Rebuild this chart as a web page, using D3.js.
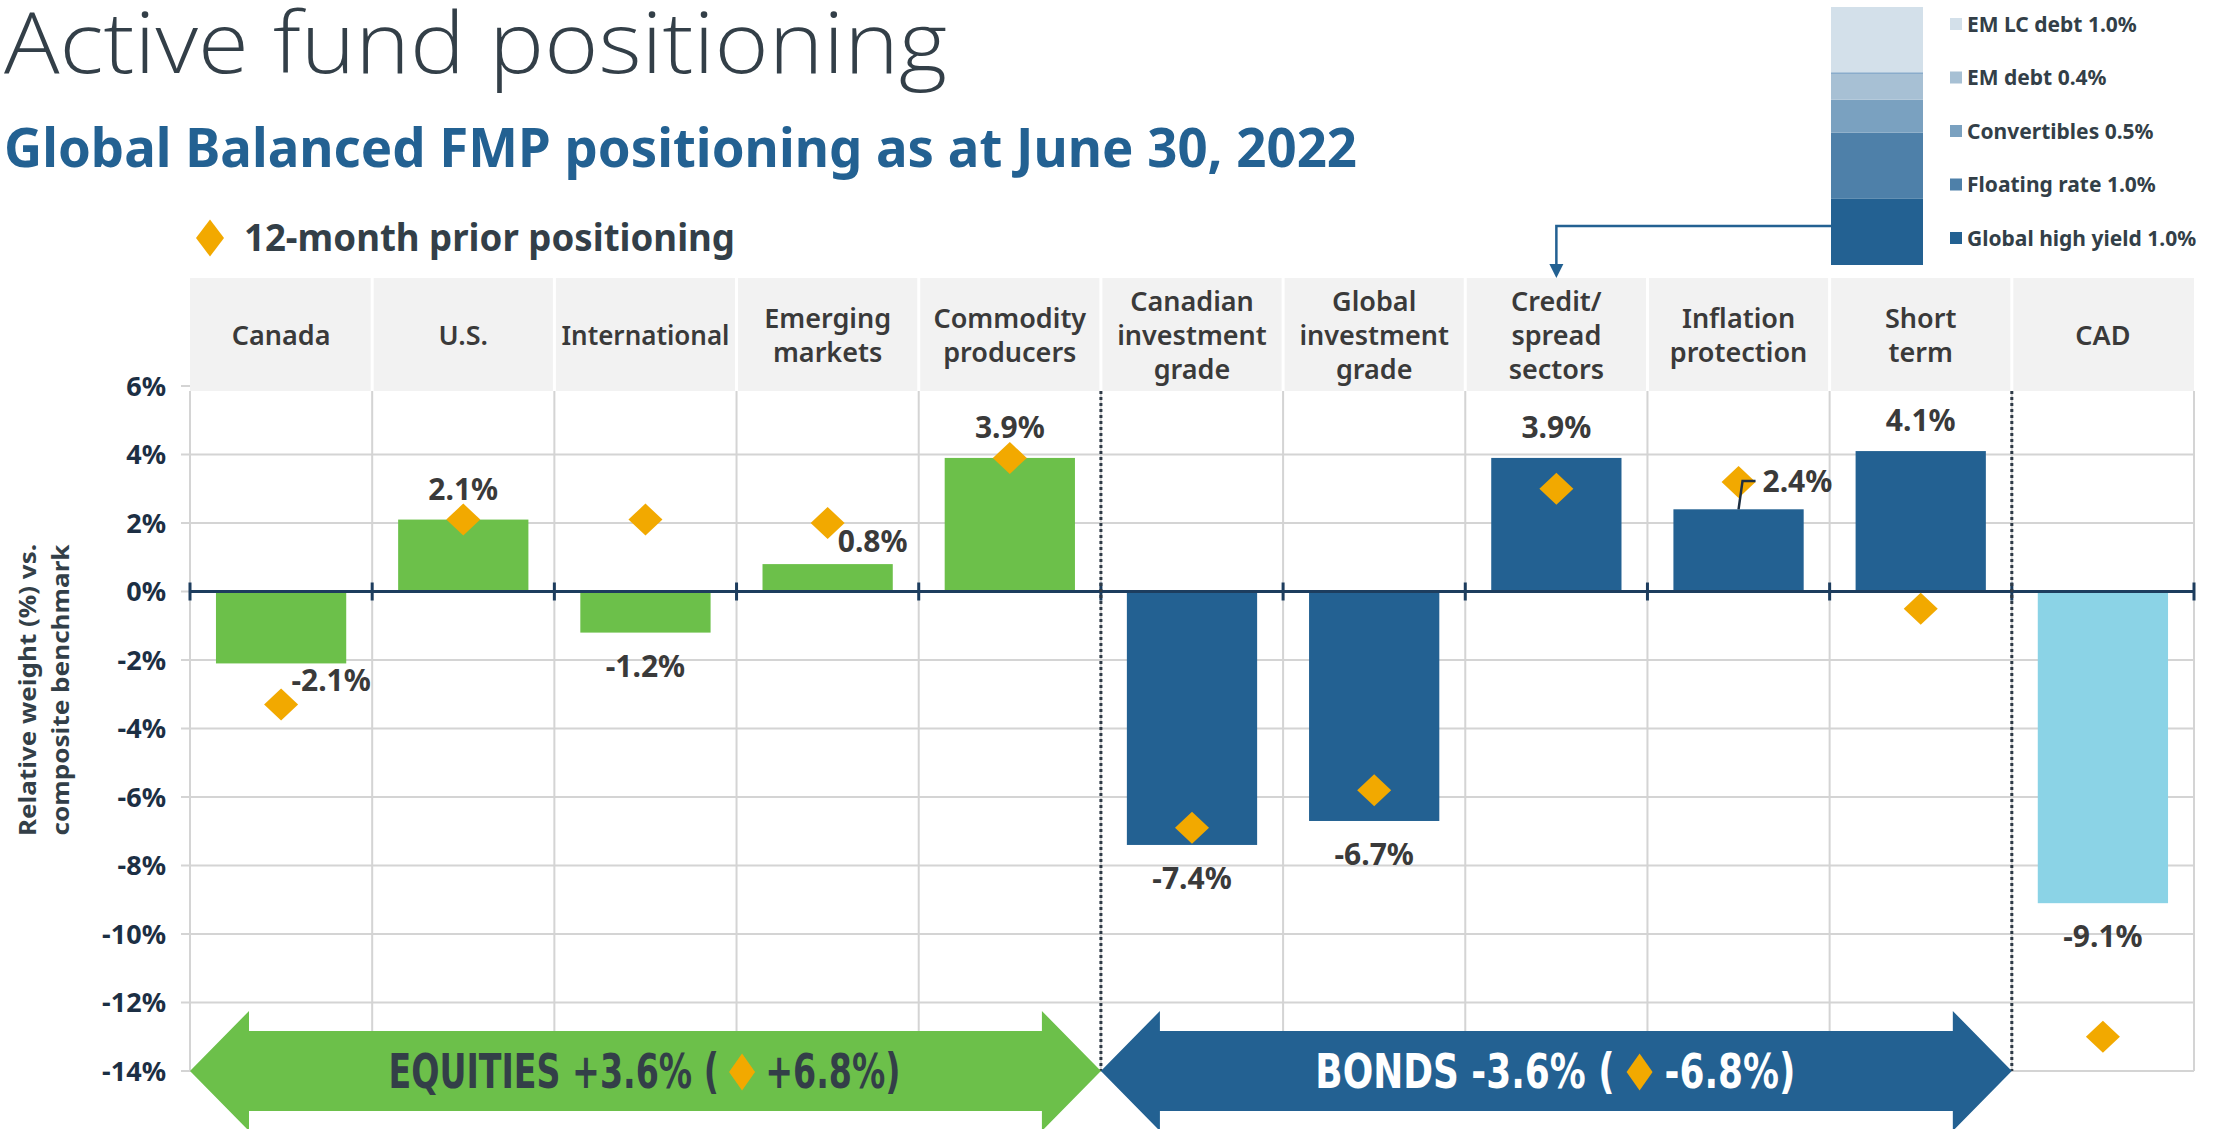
<!DOCTYPE html>
<html>
<head>
<meta charset="utf-8">
<script src="https://cdn.jsdelivr.net/npm/d3@7"></script>
<style>
  html, body { margin: 0; padding: 0; background: #ffffff; }
  svg { display: block; }
</style>
</head>
<body>
<svg id="chart" width="2224" height="1129"></svg>
<script>
// ---------------- DATA ----------------
const categories = ["Canada", "U.S.", "International", "Emerging markets", "Commodity producers",
  "Canadian investment grade", "Global investment grade", "Credit/ spread sectors",
  "Inflation protection", "Short term", "CAD"];
const headerLines = [["Canada"], ["U.S."], ["International"], ["Emerging", "markets"], ["Commodity", "producers"],
  ["Canadian", "investment", "grade"], ["Global", "investment", "grade"], ["Credit/", "spread", "sectors"],
  ["Inflation", "protection"], ["Short", "term"], ["CAD"]];
const groups = ["equity", "equity", "equity", "equity", "equity", "bond", "bond", "bond", "bond", "bond", "fx"];
const currentPositioning = [-2.1, 2.1, -1.2, 0.8, 3.9, -7.4, -6.7, 3.9, 2.4, 4.1, -9.1];
const priorPositioning = [-3.3, 2.1, 2.1, 2.0, 3.9, -6.9, -5.8, 3.0, 3.2, -0.5, -13.0];
const yTicks = [6, 4, 2, 0, -2, -4, -6, -8, -10, -12, -14];

const creditNames = ["Global high yield", "Floating rate", "Convertibles", "EM debt", "EM LC debt"];
const creditValues = [1.0, 1.0, 0.5, 0.4, 1.0];

const arrowGroups = ["equity", "bond"];
const arrowLeftText = ["EQUITIES +3.6% (", "BONDS -3.6% ("];
const arrowRightText = ["+6.8%)", "-6.8%)"];

const titleText = "Active fund positioning";
const subtitleText = "Global Balanced FMP positioning as at June 30, 2022";
const legendText = "12-month prior positioning";
const yAxisTitle = ["Relative weight (%) vs.", "composite benchmark"];

// ---------------- STYLE / LAYOUT ----------------
const C = {
  text: "#333f48", label: "#3a3a3a", navy: "#1c2f44", blue: "#236192",
  green: "#6cc04a", cad: "#8bd3e6", gold: "#f2a900", grid: "#d4d4d4", header: "#f2f2f2"
};
const groupColor = { equity: C.green, bond: C.blue, fx: C.cad };
const stackColors = ["#236192", "#4e80a9", "#7aa1c0", "#a7c0d4", "#d3e0ea"];
const FONT = "'Noto Sans', 'Open Sans', sans-serif";
const NARROW = "'Liberation Sans Narrow', 'DejaVu Sans Condensed', sans-serif";

const plotLeft = 190, plotRight = 2194, plotTop = 386, plotBottom = 1071;
const headerTop = 278, headerBottom = 391;

// label placement tweaks (pixels) for a few bars
const labelLayout = {
  "Canada": { dx: 50, dy: 28 },
  "Emerging markets": { dx: 45, dy: -12 },
  "Inflation protection": { leader: true }
};

const svg = d3.select("#chart");

// ---------------- SCALES ----------------
const xBand = d3.scaleBand().domain(categories).range([plotLeft, plotRight]).padding(0);
const xBar = d3.scaleBand().domain(categories).range([plotLeft, plotRight]).paddingInner(0.285).paddingOuter(0.1425);
const y = d3.scaleLinear().domain([-14, 6]).range([plotBottom, plotTop]);

const rows = categories.map((c, i) => ({
  cat: c, lines: headerLines[i], group: groups[i], cur: currentPositioning[i], prior: priorPositioning[i]
}));

// ---------------- TITLES ----------------
svg.append("text").attr("x", 4).attr("y", 73)
  .attr("font-family", "'Open Sans', 'Noto Sans', sans-serif").attr("font-weight", 300)
  .attr("font-size", 84).attr("fill", C.text)
  .attr("textLength", 943).attr("lengthAdjust", "spacingAndGlyphs")
  .text(titleText);

svg.append("text").attr("x", 4).attr("y", 167)
  .attr("font-family", FONT).attr("font-weight", 700)
  .attr("font-size", 54).attr("fill", C.blue)
  .attr("textLength", 1353).attr("lengthAdjust", "spacingAndGlyphs")
  .text(subtitleText);

// legend
const diamondPath = (w, h) => `M0,${-h / 2}L${w / 2},0L0,${h / 2}L${-w / 2},0Z`;
svg.append("path").attr("d", diamondPath(28, 37)).attr("transform", "translate(210,238)").attr("fill", C.gold);
svg.append("text").attr("x", 244).attr("y", 251)
  .attr("font-family", FONT).attr("font-weight", 700).attr("font-size", 38).attr("fill", C.text)
  .attr("textLength", 491).attr("lengthAdjust", "spacingAndGlyphs")
  .text(legendText);

// ---------------- HEADER ----------------
svg.append("rect").attr("x", plotLeft).attr("y", headerTop)
  .attr("width", plotRight - plotLeft).attr("height", headerBottom - headerTop).attr("fill", C.header);
svg.append("g").selectAll("line").data(categories.slice(1)).join("line")
  .attr("x1", d => xBand(d)).attr("x2", d => xBand(d))
  .attr("y1", headerTop).attr("y2", headerBottom)
  .attr("stroke", "#ffffff").attr("stroke-width", 3);

const headerG = svg.append("g");
rows.forEach(r => {
  const cx = xBand(r.cat) + xBand.bandwidth() / 2;
  const n = r.lines.length;
  const spacing = 34;
  const t = headerG.append("text").attr("text-anchor", "middle")
    .attr("font-family", FONT).attr("font-weight", 600).attr("font-size", 27).attr("fill", C.label);
  r.lines.forEach((ln, k) => {
    const ts = t.append("tspan").attr("x", cx).attr("y", 336 + (k - (n - 1) / 2) * spacing).attr("dy", "0.35em").text(ln);
    if (ln === "International") ts.attr("textLength", 168).attr("lengthAdjust", "spacingAndGlyphs");
  });
});

// ---------------- GRID ----------------
const grid = svg.append("g");
grid.selectAll("line.h").data(yTicks).join("line").attr("class", "h")
  .attr("x1", plotLeft - 9).attr("x2", plotRight)
  .attr("y1", d => y(d)).attr("y2", d => y(d))
  .attr("stroke", C.grid).attr("stroke-width", 2)
  .style("display", d => d === 6 ? "none" : null);
grid.append("line").attr("x1", plotLeft - 9).attr("x2", plotLeft).attr("y1", y(6)).attr("y2", y(6))
  .attr("stroke", C.grid).attr("stroke-width", 2);
const vBounds = categories.map(c => xBand(c)).concat([plotRight]);
grid.selectAll("line.v").data(vBounds).join("line").attr("class", "v")
  .attr("x1", d => d).attr("x2", d => d)
  .attr("y1", headerBottom).attr("y2", plotBottom)
  .attr("stroke", C.grid).attr("stroke-width", 2);

// y tick labels
svg.append("g").selectAll("text").data(yTicks).join("text")
  .attr("x", 166).attr("y", d => y(d)).attr("dy", "0.36em")
  .attr("text-anchor", "end")
  .attr("font-family", FONT).attr("font-weight", 700).attr("font-size", 27).attr("fill", C.navy)
  .text(d => d + "%");

// y-axis title
const yt = svg.append("text").attr("transform", "translate(0,690) rotate(-90)")
  .attr("text-anchor", "middle").attr("font-family", FONT).attr("font-weight", 700)
  .attr("font-size", 23).attr("fill", C.text);
yt.append("tspan").attr("x", 0).attr("y", 36).attr("textLength", 292).attr("lengthAdjust", "spacingAndGlyphs").text(yAxisTitle[0]);
yt.append("tspan").attr("x", 0).attr("y", 69).attr("textLength", 291).attr("lengthAdjust", "spacingAndGlyphs").text(yAxisTitle[1]);

// ---------------- BARS ----------------
svg.append("g").selectAll("rect").data(rows).join("rect")
  .attr("x", d => xBar(d.cat)).attr("width", xBar.bandwidth())
  .attr("y", d => y(Math.max(0, d.cur)))
  .attr("height", d => Math.abs(y(d.cur) - y(0)))
  .attr("fill", d => groupColor[d.group]);

// zero line with boundary ticks
svg.append("line").attr("x1", plotLeft).attr("x2", plotRight).attr("y1", y(0)).attr("y2", y(0))
  .attr("stroke", "#1d3d5e").attr("stroke-width", 3);
svg.append("g").selectAll("line").data(vBounds).join("line")
  .attr("x1", d => d).attr("x2", d => d).attr("y1", y(0) - 9).attr("y2", y(0) + 9)
  .attr("stroke", "#1d3d5e").attr("stroke-width", 3);

// dotted separators
const sepX = [xBand(categories[5]), xBand(categories[10])];
svg.append("g").selectAll("line").data(sepX).join("line")
  .attr("x1", d => d).attr("x2", d => d).attr("y1", headerBottom).attr("y2", plotBottom)
  .attr("stroke", "#2e3a46").attr("stroke-width", 3).attr("stroke-dasharray", "3,3");

// ---------------- ARROWS ----------------
const hl = 59, hh = 60, bh = 40;
const arrowPath = (x0, x1, yc) =>
  `M${x0},${yc}L${x0 + hl},${yc - hh}L${x0 + hl},${yc - bh}L${x1 - hl},${yc - bh}L${x1 - hl},${yc - hh}` +
  `L${x1},${yc}L${x1 - hl},${yc + hh}L${x1 - hl},${yc + bh}L${x0 + hl},${yc + bh}L${x0 + hl},${yc + hh}Z`;
const arrowTextTotal = [512, 480];
const gapSpaces = "    ";
arrowGroups.forEach((g, i) => {
  const cats = rows.filter(r => r.group === g).map(r => r.cat);
  const x0 = xBand(cats[0]);
  const x1 = xBand(cats[cats.length - 1]) + xBand.bandwidth();
  const yc = y(-14);
  const fill = groupColor[g];
  const txtColor = g === "equity" ? C.text : "#ffffff";
  svg.append("path").attr("d", arrowPath(x0, x1, yc)).attr("fill", fill);
  const cx = (x0 + x1) / 2 - 1;
  const full = arrowLeftText[i] + gapSpaces + arrowRightText[i];
  const t = svg.append("text").attr("x", cx).attr("y", yc).attr("dy", "0.36em")
    .attr("text-anchor", "middle").attr("xml:space", "preserve").style("white-space", "pre")
    .attr("font-family", NARROW).attr("font-weight", 700).attr("font-size", 48).attr("fill", txtColor)
    .attr("textLength", arrowTextTotal[i]).attr("lengthAdjust", "spacingAndGlyphs")
    .text(full);
  let dX;
  try {
    const node = t.node();
    const a = node.getEndPositionOfChar(arrowLeftText[i].length - 1).x;
    const b = node.getStartPositionOfChar(arrowLeftText[i].length + gapSpaces.length).x;
    dX = (a + b) / 2;
  } catch (e) {
    dX = cx + (i === 0 ? 94 : 82);
  }
  svg.append("path").attr("d", diamondPath(26, 37))
    .attr("transform", `translate(${dX},${yc + 1})`).attr("fill", C.gold);
});

// ---------------- PRIOR DIAMONDS ----------------
svg.append("g").selectAll("path").data(rows).join("path")
  .attr("d", diamondPath(34, 32))
  .attr("transform", d => `translate(${xBand(d.cat) + xBand.bandwidth() / 2},${y(d.prior)})`)
  .attr("fill", C.gold);

// ---------------- DATA LABELS ----------------
const fmt = v => v.toFixed(1) + "%";
const lblG = svg.append("g").attr("font-family", FONT).attr("font-weight", 700)
  .attr("font-size", 30).attr("fill", C.label);
rows.forEach(r => {
  const cx = xBand(r.cat) + xBand.bandwidth() / 2;
  const yEnd = y(r.cur);
  const tweak = labelLayout[r.cat];
  if (tweak && tweak.leader) {
    const yl = y(r.prior) - 1;
    lblG.append("path").attr("d", `M${cx},${yEnd}L${cx + 4},${yl}L${cx + 17},${yl}`)
      .attr("fill", "none").attr("stroke", "#1d2f42").attr("stroke-width", 2.5);
    lblG.append("text").attr("x", cx + 24).attr("y", yl + 11).attr("text-anchor", "start").text(fmt(r.cur));
    return;
  }
  const base = r.cur >= 0 ? yEnd - 20 : yEnd + 44;
  const dx = tweak ? tweak.dx : 0;
  const dy = tweak ? (r.cur >= 0 ? tweak.dy + 20 : tweak.dy - 44) : 0;
  lblG.append("text").attr("x", cx + dx).attr("y", base + dy).attr("text-anchor", "middle").text(fmt(r.cur));
});

// ---------------- CREDIT BREAKDOWN INSET ----------------
const stackTotal = d3.sum(creditValues);
const yS = d3.scaleLinear().domain([0, stackTotal]).range([265, 7]);
const stackData = d3.stack().keys(creditNames)([Object.fromEntries(creditNames.map((n, i) => [n, creditValues[i]]))]);
const stackX = 1831, stackW = 92;
svg.append("g").selectAll("rect").data(stackData).join("rect")
  .attr("x", stackX).attr("width", stackW)
  .attr("y", d => yS(d[0][1])).attr("height", d => yS(d[0][0]) - yS(d[0][1]))
  .attr("fill", (d, i) => stackColors[i]);
svg.append("line").attr("x1", stackX).attr("x2", stackX + stackW)
  .attr("y1", yS(stackTotal - creditValues[4])).attr("y2", yS(stackTotal - creditValues[4]))
  .attr("stroke", "#8aaccb").attr("stroke-width", 1.5);

const legendOrder = creditNames.slice().reverse();
const yL = d3.scalePoint().domain(legendOrder).range([24, 238]);
const lg = svg.append("g");
legendOrder.forEach(n => {
  const i = creditNames.indexOf(n);
  lg.append("rect").attr("x", 1950).attr("y", yL(n) - 6).attr("width", 12).attr("height", 12).attr("fill", stackColors[i]);
  lg.append("text").attr("x", 1967).attr("y", yL(n)).attr("dy", "0.36em")
    .attr("font-family", FONT).attr("font-weight", 700).attr("font-size", 21).attr("fill", C.text)
    .text(`${n} ${creditValues[i].toFixed(1)}%`);
});

// connector arrow to Credit/spread sectors
const creditCx = xBand(categories[7]) + xBand.bandwidth() / 2;
svg.append("path").attr("d", `M${stackX},226H${creditCx}V266`)
  .attr("fill", "none").attr("stroke", C.blue).attr("stroke-width", 2.5);
svg.append("path").attr("d", `M${creditCx - 7},264L${creditCx + 7},264L${creditCx},278Z`).attr("fill", C.blue);
</script>
</body>
</html>
